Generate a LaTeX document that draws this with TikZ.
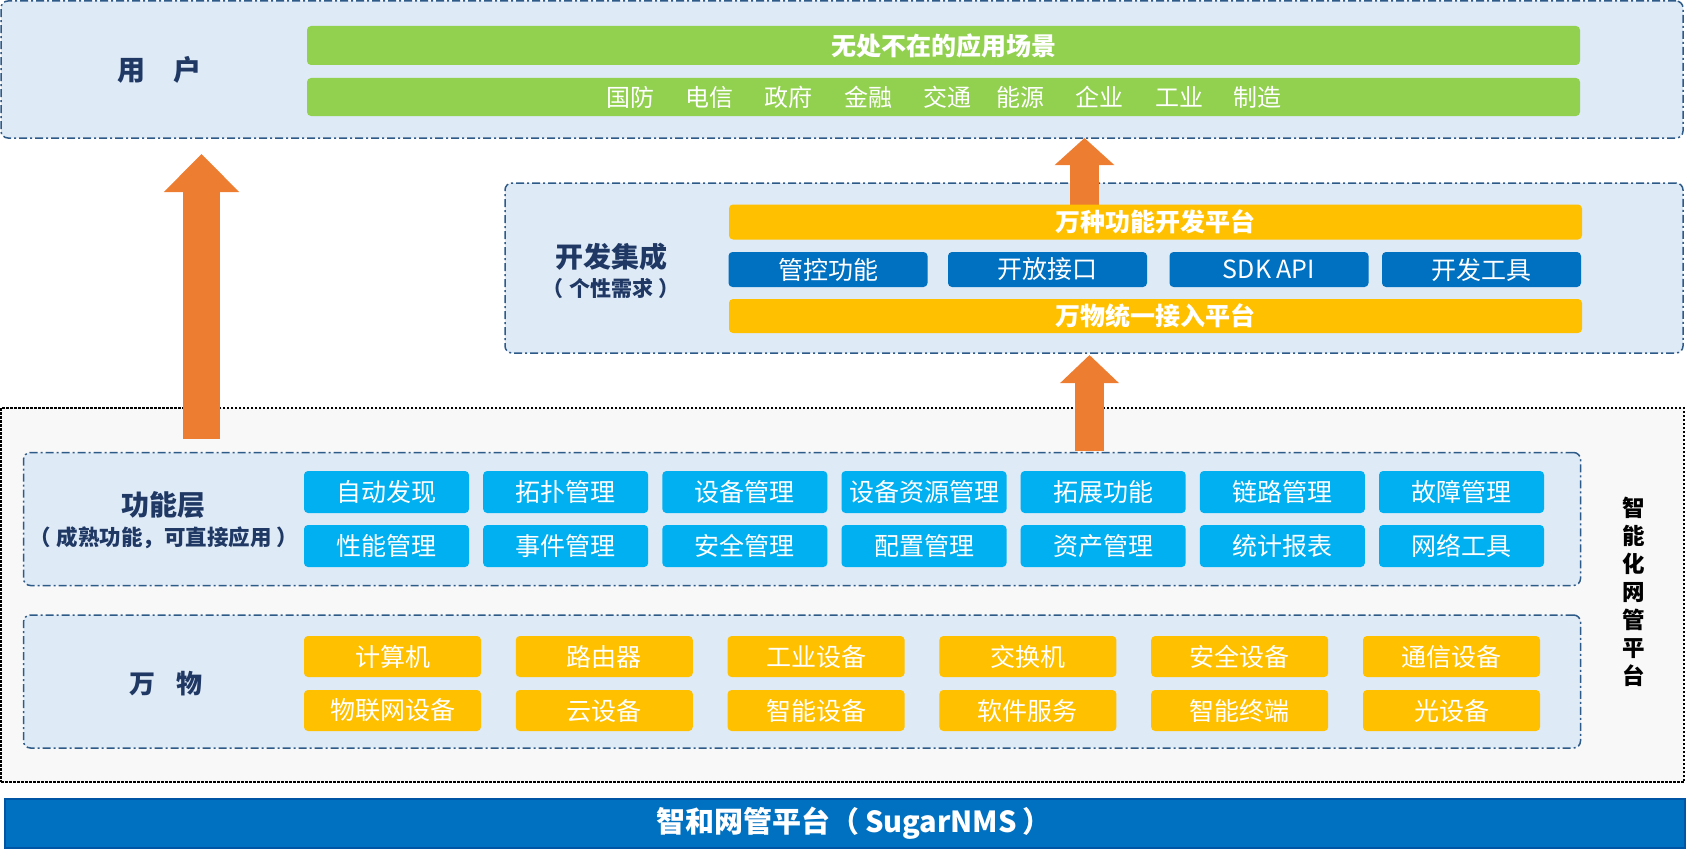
\documentclass[tikz,border=0pt]{standalone}
\usepackage{fontspec}
\setmainfont{Noto Sans CJK SC}
\usetikzlibrary{arrows.meta}
\definecolor{panelfill}{HTML}{DEEAF6}
\definecolor{panelborder}{HTML}{2E5A88}
\definecolor{outerfill}{HTML}{F8F8F8}
\definecolor{navy}{HTML}{1F3864}
\definecolor{leaf}{HTML}{92D050}
\definecolor{amber}{HTML}{FFC000}
\definecolor{royal}{HTML}{0070C0}
\definecolor{sky}{HTML}{00B0F0}
\definecolor{flame}{HTML}{ED7D31}
\definecolor{barborder}{HTML}{0055A5}
\begin{document}
\begin{tikzpicture}[x=1pt,y=-1pt,
  panel/.style={draw=panelborder, fill=panelfill, line width=1.5pt,
    dash pattern=on 8pt off 3pt on 2pt off 3pt, rounded corners=7pt},
  box/.style 2 args={minimum width=#1pt, minimum height=#2pt, inner sep=0pt, outer sep=0pt},
  cell/.style={rounded corners=4pt, text=white, font=\fontsize{25}{30}\selectfont},
  boldcell/.style={rounded corners=4pt, text=white, font=\bfseries\fontsize{25}{30}\selectfont},
  lbl/.style={text=navy, font=\bfseries\fontsize{28}{32}\selectfont, inner sep=0pt},
  sublbl/.style={text=navy, font=\bfseries\fontsize{21}{26}\selectfont, inner sep=0pt},
  word/.style={text=white, font=\fontsize{24}{28}\selectfont, inner sep=0pt},
  bigarrow/.style n args={3}{draw=flame, line width=#1pt, -{Triangle[width=#2pt, length=#3pt]}},
]
\useasboundingbox (0,0) rectangle (1690,859);

% outer platform frame
\node[box={1683}{374}, draw=black, line width=2.5pt, dash pattern=on 2.5pt off 1.5pt, fill=outerfill] (outer) at (842.5,595) {};

% panels
\node[panel, box={1682}{137}] (user) at (842,69.5) {};
\node[panel, box={1178}{170}] (dev) at (1094,268) {};
\node[panel, box={1557}{133}] (func) at (802,519) {};
\node[panel, box={1557}{133}] (things) at (802,681.5) {};

% arrows
\coordinate (la0) at (201.5,439);
\coordinate (la1) at (201.5,154);
\draw[bigarrow={37}{73}{38}] (la0) -- (la1);
\coordinate (a2) at (1084.5,205);
\draw[bigarrow={29}{58}{27}] (a2) -- (a2 |- user.south);
\coordinate (a3) at (1089.5,451);
\coordinate (a3t) at (1089.5,355);
\draw[bigarrow={29}{57}{28}] (a3) -- (a3t);

% user layer
\node[lbl] (userlbl) at (159.5,70) {用\hspace{1em}户};
\node[boldcell, box={1273}{39}, fill=leaf] (scene) at (943.5,45.5) {无处不在的应用场景};
\node[cell, box={1273}{38}, fill=leaf] (sectors) at (943.5,97) {};
\foreach \t/\x [count=\i] in {国防/630,电信/709,政府/788,金融/868,交通/947,能源/1020,企业/1099,工业/1179,制造/1257}
  \node[word] (sec\i) at (\x,97) {\t};

% development layer
\node[lbl] (devlbl) at (611,257) {开发集成};
\node[sublbl] (devsub) at (611,289) {（\hspace{0.25em}个性需求\hspace{0.25em}）};
\node[boldcell, box={853}{35}, fill=amber] (devtop) at (1155.5,222) {万种功能开发平台};
\foreach \t/\x [count=\i] in {管控功能/828,开放接口/1047.5,SDK API/1269,开发工具/1481.5}
  \node[cell, box={199}{35}, fill=royal] (dv\i) at (\x,269.5) {\t};
\node[boldcell, box={853}{34}, fill=amber] (devbot) at (1155.5,316) {万物统一接入平台};

% function layer
\node[lbl] (funclbl) at (163,505) {功能层};
\node[sublbl, font=\bfseries\fontsize{21.5}{26}\selectfont] (funcsub) at (164,538) {（\hspace{0.25em}成熟功能，可直接应用\hspace{0.25em}）};
\foreach \t [count=\i from 0] in {自动发现,拓扑管理,设备管理,设备资源管理,拓展功能,链路管理,故障管理}
  \node[cell, box={165}{42}, fill=sky] (fa\i) at ({386.5+179.17*\i},492) {\t};
\foreach \t [count=\i from 0] in {性能管理,事件管理,安全管理,配置管理,资产管理,统计报表,网络工具}
  \node[cell, box={165}{42}, fill=sky] (fb\i) at ({386.5+179.17*\i},546) {\t};

% things layer
\node[lbl, font=\bfseries\fontsize{26}{30}\selectfont] (thinglbl) at (166,684) {万\hspace{0.8em}物};
\foreach \t [count=\i from 0] in {计算机,路由器,工业设备,交换机,安全设备,通信设备}
  \node[cell, box={177}{41}, fill=amber] (ta\i) at ({392.5+211.8*\i},656.5) {\t};
\foreach \t [count=\i from 0] in {物联网设备,云设备,智能设备,软件服务,智能终端,光设备}
  \node[cell, box={177}{41}, fill=amber] (tb\i) at ({392.5+211.8*\i},710.5) {\t};

% side label
\node[font=\bfseries\fontsize{22.5}{28}\selectfont, align=center, inner sep=0pt] (side) at (1634,592) {智\\能\\化\\网\\管\\平\\台};

% base bar
\node[box={1680}{49}, fill=royal, draw=barborder, line width=2pt] (base) at (845,823.5) {};
\node[text=white, inner sep=0pt, font=\bfseries\fontsize{29}{34}\selectfont] (basetext) at (854,823.5) {智和网管平台（\hspace{0.2em}SugarNMS\hspace{0.2em}）};
\end{tikzpicture}
\end{document}
